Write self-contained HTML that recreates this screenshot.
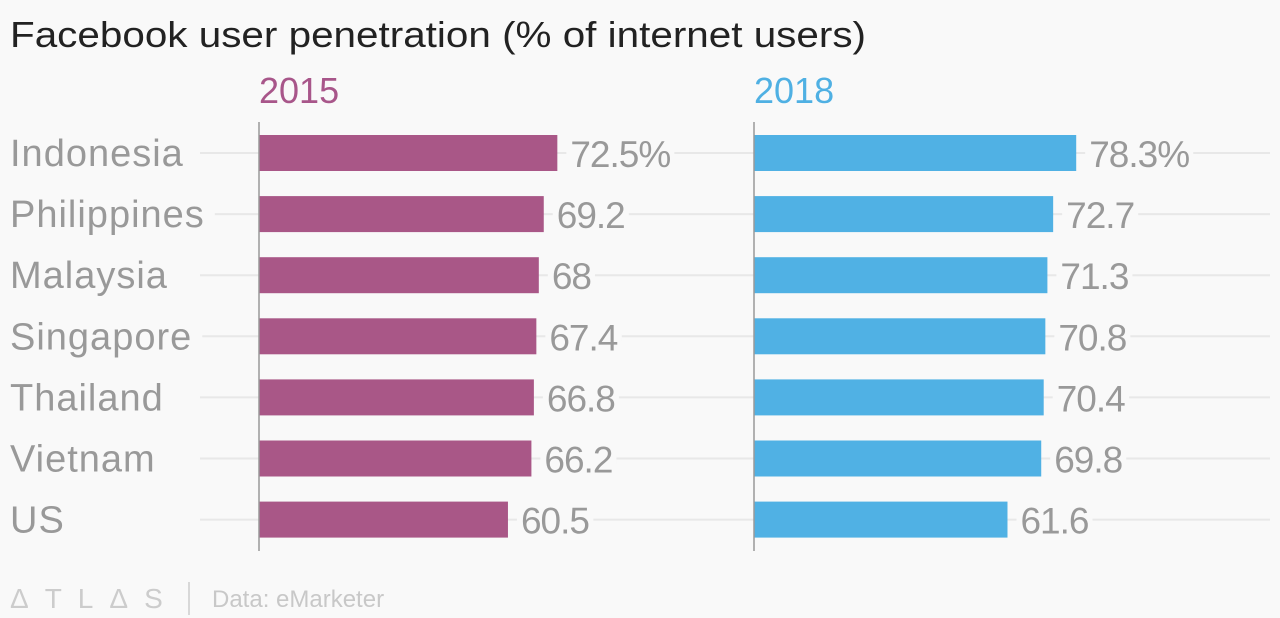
<!DOCTYPE html>
<html><head><meta charset="utf-8"><style>
body{margin:0;background:#f9f9f9;}
svg{display:block;font-family:"Liberation Sans",sans-serif;}
</style></head><body>
<svg id="chart" width="1280" height="618">
<text x="10" y="47" font-size="36" fill="#222" textLength="856" lengthAdjust="spacingAndGlyphs">Facebook user penetration (% of internet users)</text>
<text x="259" y="103" font-size="36" fill="#a8568a">2015</text>
<text x="754" y="103" font-size="36" fill="#4fb0e3">2018</text>
<g id="plot"></g>
<text x="10" y="608" font-size="28" fill="#ccc" letter-spacing="16">ΔTLΔS</text>
<line x1="189" y1="582" x2="189" y2="615" stroke="#ccc" stroke-width="1.5"/>
<text x="212" y="607" font-size="24" fill="#c8c8c8">Data: eMarketer</text>
</svg>
<script>
const categories=["Indonesia","Philippines","Malaysia","Singapore","Thailand","Vietnam","US"];
const values2015=[72.5,69.2,68,67.4,66.8,66.2,60.5];
const values2018=[78.3,72.7,71.3,70.8,70.4,69.8,61.6];
const labels2015=["72.5%","69.2","68","67.4","66.8","66.2","60.5"];
const labels2018=["78.3%","72.7","71.3","70.8","70.4","69.8","61.6"];
const ns="http://www.w3.org/2000/svg";
const g=document.getElementById('plot');
const scale=4.115;
const yC=i=>153+i*61.1;
function mk(tag,attrs){const e=document.createElementNS(ns,tag);for(const k in attrs)e.setAttribute(k,attrs[k]);g.appendChild(e);return e;}
const panels=[{x0:259,vals:values2015,labs:labels2015,col:"#a95787",name:"2015"},{x0:754,vals:values2018,labs:labels2018,col:"#50b1e4",name:"2018"}];
categories.forEach((c,i)=>{
  const gl=mk('line',{x1:200,y1:yC(i),x2:1270,y2:yC(i),stroke:"#e8e8e8","stroke-width":2});
  
  
  const t=mk('text',{x:10,y:yC(i)+13,"font-size":38,fill:"#999","letter-spacing":1});
  t.textContent=c;
  
  
});
panels.forEach(p=>{
  p.vals.forEach((v,i)=>{
    const w=v*scale;
    const r=mk('rect',{x:p.x0,y:yC(i)-18,width:w,height:36,fill:p.col});
    
    
    const t=mk('text',{x:p.x0+w+13,y:yC(i)+14,"font-size":37,fill:"#999","letter-spacing":-1});
    t.textContent=p.labs[i];
    
    
  });
  const ax=mk('line',{x1:p.x0,y1:122,x2:p.x0,y2:551,stroke:"#999","stroke-width":1.5});
  
  
});
document.querySelectorAll('#plot text').forEach(t=>{
  const b=t.getBBox();
  const bg=document.createElementNS(ns,'rect');
  bg.setAttribute('x',b.x-4);bg.setAttribute('y',b.y+b.height/2-4);bg.setAttribute('width',b.width+(b.x<100?14:8));bg.setAttribute('height',8);bg.setAttribute('fill','#f9f9f9');
  
  
  g.insertBefore(bg,t);
});
</script>
</body></html>
